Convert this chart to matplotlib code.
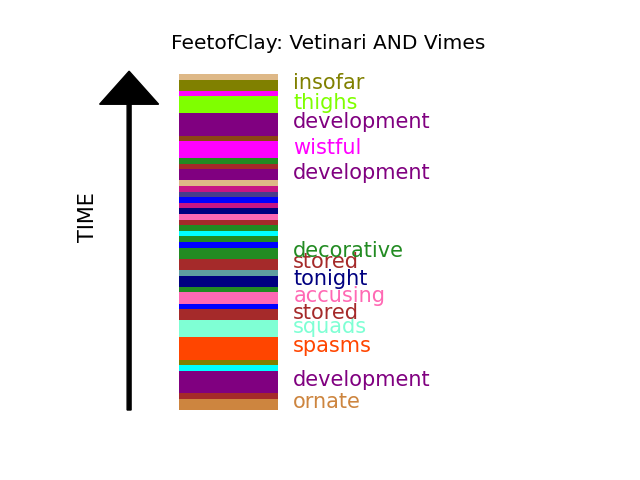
import matplotlib
matplotlib.use('Agg')
import matplotlib.pyplot as plt

# segments, bottom (earliest) to top (latest)
colors = ['peru', 'brown', 'purple', 'cyan', 'olive', 'orangered', 'aquamarine',
          'brown', 'blue', 'hotpink', 'forestgreen', 'navy', 'cadetblue', 'brown',
          'forestgreen', 'blue', 'forestgreen', 'cyan', 'forestgreen', 'brown',
          'hotpink', 'navy', 'mediumvioletred', 'blue', 'darkslateblue',
          'mediumvioletred', 'burlywood', 'purple', 'brown', 'forestgreen',
          'magenta', 'saddlebrown', 'purple', 'chartreuse', 'magenta', 'olive',
          'burlywood']
lengths = [2, 1, 4, 1, 1, 4, 3, 2, 1, 2, 1, 2, 1, 2, 2, 1, 1, 1, 1, 1, 1, 1, 1,
           1, 1, 1, 1, 2, 1, 1, 3, 1, 4, 3, 1, 2, 1]
words = ['ornate', '', 'development', '', '', 'spasms', 'squads', 'stored', '',
         'accusing', '', 'tonight', '', 'stored', 'decorative', '', '', '', '',
         '', '', '', '', '', '', '', '', 'development', '', '', 'wistful', '',
         'development', 'thighs', '', 'insofar', '']
title = 'FeetofClay: Vetinari AND Vimes'

fig, ax = plt.subplots(figsize=(6.4, 4.8), dpi=100)

bottom = 0
for c, h, w in zip(colors, lengths, words):
    ax.bar(0.3, h, bottom=bottom, width=0.2, color=c, edgecolor='none')
    if w:
        # label the longer stretches, in the segment's colour
        ax.text(0.43, bottom + h / 2 + 0.35, w, color=c, fontsize=15,
                va='center', ha='left')
    bottom += h

total = sum(lengths)
ax.arrow(0.099, 0, 0, total + 0.5, width=0.008, head_width=0.119, head_length=5.9,
         length_includes_head=True, color='black')
ax.text(0.016, 34.5, 'TIME', rotation=90, fontsize=15, va='center', ha='center')

ax.set_xlim(0, 1)
ax.set_ylim(-3.07, 62.93)
ax.axis('off')
ax.set_title(title, fontsize=14.5)

plt.savefig('out.png', dpi=100)
